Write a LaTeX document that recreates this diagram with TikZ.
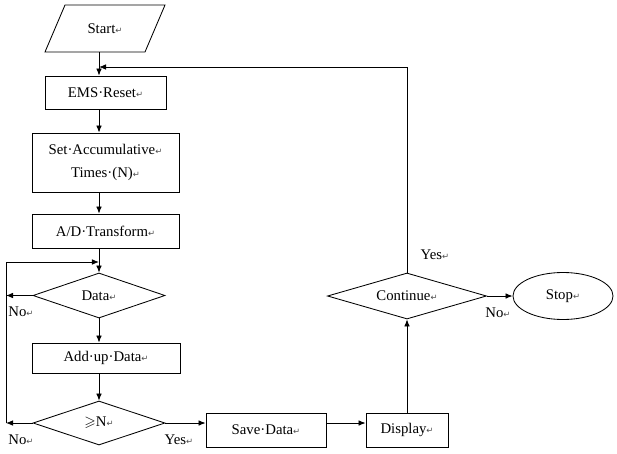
\documentclass[tikz,border=0pt]{standalone}
\usepackage{fontspec}
\usepackage{amssymb}
\setmainfont{Liberation Serif}
\newfontfamily\markfont{DejaVu Sans}
\usetikzlibrary{shapes.geometric,arrows.meta}
\newcommand{\retmark}{{\markfont\fontsize{6}{6}\selectfont\color{black!70}↵}}

\tikzset{
  box/.style={draw, rectangle, inner sep=0pt},
  dia/.style={draw, diamond, aspect=3.5, inner sep=0pt},
  arr/.style={-{Latex[length=5pt,width=4pt]}},
  lbl/.style={inner sep=1pt}
}

\begin{document}
\begin{tikzpicture}[x=0.025cm, y=-0.025cm, line width=0.6pt,
    font=\fontsize{10.5}{13}\selectfont]
  \useasboundingbox (0,0) rectangle (617,453);
  \coordinate (col) at (99,0);
  \coordinate (lft) at (6,0);
  \coordinate (back) at (99,67);
  \coordinate (loop) at (99,262);

  % main column
  \draw (65,5) -- (165,5) -- (145,52) -- (45,52) -- cycle;
  \node[inner sep=0pt, minimum width=2.5cm, minimum height=1.175cm] (start) at (105,28.5) {Start\retmark};
  \node[box, minimum width=3.025cm, minimum height=0.825cm] (reset) at (105.5,92.5) {EMS·Reset\retmark};
  \node[box, minimum width=3.675cm, minimum height=1.475cm, align=center,
    font=\fontsize{10.5}{16}\selectfont] (setn) at (105.5,162.5) {Set·Accumulative\retmark\\Times·(N)\retmark};
  \node[box, minimum width=3.675cm, minimum height=0.85cm] (adt) at (105.5,231) {A/D·Transform\retmark};
  \node[dia, minimum width=3.3cm, minimum height=1.125cm] (data) at (99,295.5) {Data\retmark};
  \node[box, minimum width=3.7cm, minimum height=0.75cm] (addup) at (106,358) {Add·up·Data\retmark};
  \node[dia, minimum width=3.3cm, minimum height=1.1cm] (geqn) at (99,423) {$\geqslant$N\retmark};

  % bottom row and right side
  \node[box, minimum width=3cm, minimum height=0.85cm] (save) at (266,430) {Save·Data\retmark};
  \node[box, minimum width=2.05cm, minimum height=0.85cm] (disp) at (407,430) {Display\retmark};
  \node[dia, minimum width=3.975cm, minimum height=1.15cm] (cont) at (407,296) {Continue\retmark};
  \node[draw, ellipse, inner sep=0pt, minimum width=2.5cm, minimum height=1.175cm] (stop) at (563,296) {Stop\retmark};

  % labels
  \node[lbl] (no1) at (21,312) {No\retmark};
  \node[lbl] (no2) at (21,440) {No\retmark};
  \node[lbl] (yes1) at (179,440) {Yes\retmark};
  \node[lbl] (yes2) at (435,255) {Yes\retmark};
  \node[lbl] (no3) at (498,313) {No\retmark};

  % connectors
  \draw[arr] (start.south -| col) -- (reset.north -| col);
  \draw[arr] (reset.south -| col) -- (setn.north -| col);
  \draw[arr] (setn.south -| col) -- (adt.north -| col);
  \draw[arr] (adt.south -| col) -- (data.north);
  \draw[arr] (data.south) -- (addup.north -| col);
  \draw[arr] (addup.south -| col) -- (geqn.north);
  \draw[arr] (data.west) -- (data.west -| lft);
  \draw[arr] (geqn.west) -- (geqn.west -| lft);
  \draw[arr] (geqn.west -| lft) -- (lft |- loop) -- (loop);
  \draw[arr] (geqn.east) -- (geqn.east -| save.west);
  \draw[arr] (save.east |- geqn.east) -- (disp.west |- geqn.east);
  \draw[arr] (disp.north) -- (cont.south);
  \draw[arr] (cont.east) -- (stop.west);
  \draw[arr] (cont.north) |- (back);
\end{tikzpicture}
\end{document}
